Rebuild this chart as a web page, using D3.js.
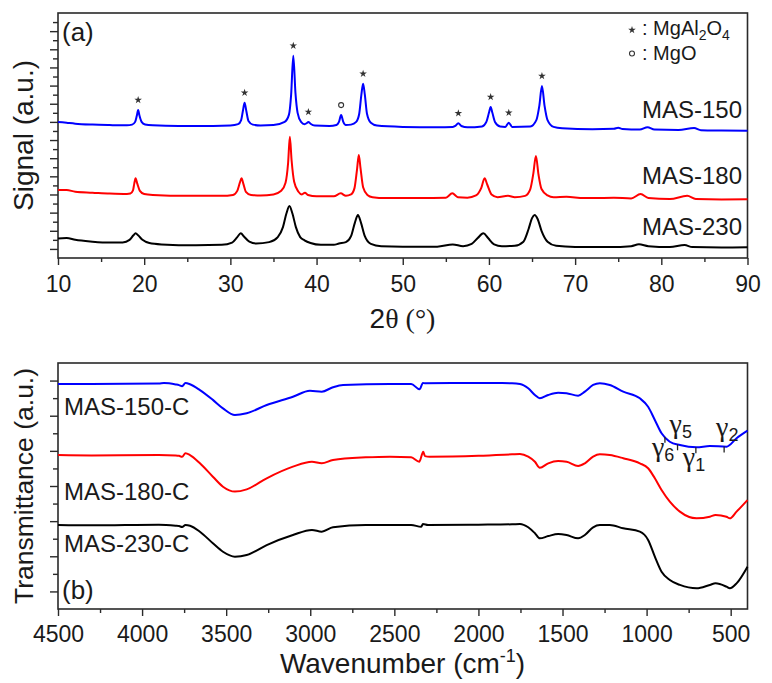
<!DOCTYPE html>
<html>
<head>
<meta charset="utf-8">
<script src="https://cdn.jsdelivr.net/npm/d3@7"></script>
<style>
  html, body { margin: 0; padding: 0; background: #fff; }
  svg { display: block; }
  text { font-family: "Liberation Sans", Arial, sans-serif; fill: #1a1a1a; }
</style>
</head>
<body>
<svg id="chart" width="772" height="683"></svg>
<script>
// ---------- (a) XRD patterns: [2θ (°), signal (a.u.)] ----------
const xrd150 = [
  [10, 15.0], [11, 14.9], [12, 14.8], [14, 14.7], [16, 14.65], [18, 14.62],
  [18.6, 14.7], [18.95, 15.0], [19.15, 15.7], [19.3, 16.3], [19.45, 15.7], [19.7, 15.0], [20.1, 14.72], [21, 14.62],
  [24, 14.55], [28, 14.55], [30, 14.6],
  [30.9, 14.75], [31.25, 15.2], [31.45, 16.2], [31.65, 17.1], [31.85, 16.2], [32.1, 15.1], [32.6, 14.7], [33.5, 14.6],
  [35, 14.65], [36.3, 15.0], [36.8, 15.8], [37.05, 18.0], [37.3, 22.3], [37.55, 18.2], [37.8, 16.0], [38.2, 15.0], [38.6, 14.75],
  [38.85, 14.85], [39.05, 15.0], [39.3, 14.8], [39.8, 14.6], [41.5, 14.55],
  [42.3, 14.65], [42.6, 15.0], [42.85, 15.75], [43.1, 15.0], [43.4, 14.65], [44.0, 14.7],
  [44.6, 15.0], [44.95, 15.9], [45.2, 18.0], [45.4, 19.2], [45.6, 18.0], [45.85, 15.9], [46.3, 14.9], [47, 14.6],
  [50, 14.45], [54, 14.4], [55.8, 14.45],
  [56.1, 14.55], [56.45, 14.85], [56.8, 14.55], [57.5, 14.4],
  [59.2, 14.5], [59.7, 15.0], [60.0, 16.0], [60.2, 16.65], [60.4, 16.0], [60.7, 15.0], [61.3, 14.5],
  [61.9, 14.45], [62.3, 14.9], [62.7, 14.45],
  [64.8, 14.5], [65.5, 15.2], [65.85, 16.8], [66.15, 18.95], [66.45, 16.8], [66.8, 15.2], [67.5, 14.45], [68.5, 14.3],
  [72, 14.2], [74.5, 14.25], [75.0, 14.36], [75.5, 14.22], [77.5, 14.15], [78.4, 14.42], [79.2, 14.15],
  [82, 14.1], [83.8, 14.32], [84.6, 14.08], [87, 14.05], [90, 14.03]
];
const xrd180 = [
  [10, 7.5], [11, 7.5], [12, 7.3], [14, 7.2], [16, 7.1], [18, 7.05],
  [18.4, 7.1], [18.7, 7.45], [18.85, 8.2], [19.0, 8.78], [19.2, 8.2], [19.5, 7.4], [20.0, 7.05], [21, 6.95],
  [25, 6.85], [29, 6.85], [30.3, 6.95], [30.8, 7.4], [31.1, 8.3], [31.3, 8.78], [31.5, 8.2], [31.8, 7.3], [32.4, 6.95], [33.5, 6.9],
  [35, 7.0], [35.9, 7.4], [36.4, 8.3], [36.7, 10.5], [36.9, 13.35], [37.1, 10.8], [37.4, 8.4], [37.9, 7.3], [38.3, 7.0],
  [38.65, 7.2], [39.0, 6.95], [40, 6.8], [42, 6.8], [42.8, 7.13], [43.4, 6.85], [44.0, 7.0],
  [44.4, 7.7], [44.7, 9.8], [44.9, 11.35], [45.1, 9.9], [45.4, 7.8], [45.9, 6.95], [46.5, 6.7],
  [48, 6.6], [52, 6.6], [55, 6.65], [55.75, 7.13], [56.4, 6.7], [57.5, 6.65],
  [58.5, 6.9], [59.1, 7.7], [59.5, 8.78], [59.8, 8.1], [60.3, 7.0], [61, 6.7], [62.2, 6.87], [63, 6.7],
  [64.2, 6.85], [64.8, 7.6], [65.15, 9.3], [65.45, 11.24], [65.75, 9.2], [66.1, 7.6], [66.8, 6.9], [67.5, 6.7],
  [69, 6.76], [71, 6.6], [74.5, 6.65], [76.5, 6.55], [77.6, 7.05], [78.5, 6.6], [81, 6.5], [83.0, 6.85], [84, 6.5],
  [87, 6.45], [90, 6.47]
];
const xrd230 = [
  [10, 2.15], [11, 2.2], [12, 2.0], [14, 1.8], [16, 1.7], [17.5, 1.72],
  [18.3, 2.0], [18.75, 2.5], [19.0, 2.72], [19.3, 2.5], [19.8, 2.0], [20.6, 1.65], [22, 1.5],
  [26, 1.4], [29, 1.45], [30.2, 1.7], [30.8, 2.3], [31.2, 2.72], [31.6, 2.35], [32.2, 1.8], [33, 1.6],
  [34.5, 1.75], [35.5, 2.3], [36.1, 3.4], [36.5, 4.9], [36.85, 5.73], [37.2, 4.9], [37.6, 3.4], [38.1, 2.3],
  [38.6, 1.95], [39.3, 1.65], [40.5, 1.45], [42, 1.45], [42.6, 1.6], [43.4, 1.75],
  [44.0, 2.4], [44.45, 3.9], [44.8, 4.74], [45.15, 3.9], [45.6, 2.4], [46.3, 1.55], [47.5, 1.3],
  [50, 1.25], [54, 1.25], [55.8, 1.5], [57, 1.3], [58, 1.55], [58.7, 2.2], [59.35, 2.72], [59.9, 2.2],
  [60.6, 1.5], [61.5, 1.3], [63, 1.35], [64.0, 1.8], [64.6, 3.2], [65.0, 4.4], [65.3, 4.74], [65.65, 4.3],
  [66.1, 3.0], [66.8, 1.8], [67.8, 1.35], [70, 1.22], [74, 1.2], [76.5, 1.3], [77.4, 1.51], [78.5, 1.3],
  [81, 1.2], [82.7, 1.43], [83.6, 1.2], [87, 1.15], [90, 1.18]
];
const xrdSeries = [
  { name: "MAS-150", color: "#0000ff", data: xrd150 },
  { name: "MAS-180", color: "#ff0000", data: xrd180 },
  { name: "MAS-230", color: "#000000", data: xrd230 }
];
// Reflections marked on MAS-150
const spinelPeaks = [19.3, 31.65, 37.3, 39.05, 45.4, 56.45, 60.2, 62.3, 66.15];
const mgoPeaks = [42.85];
const xrdTicks = [10, 20, 30, 40, 50, 60, 70, 80, 90];

// ---------- (b) FTIR spectra: [wavenumber (cm⁻¹), transmittance (a.u.)] ----------
const ir150 = [
  [4500, 12.81], [4300, 12.80], [3900, 12.83], [3870, 12.86], [3800, 12.78], [3780, 12.74], [3762, 12.68],
  [3742, 12.86], [3715, 12.79], [3656, 12.46], [3579, 11.90], [3519, 11.42], [3448, 11.04], [3378, 11.14],
  [3259, 11.61], [3103, 12.08], [3002, 12.42], [2932, 12.37], [2865, 12.62], [2805, 12.75], [2526, 12.81],
  [2400, 12.81], [2350, 12.50], [2330, 12.86], [2318, 12.85], [2000, 12.86], [1800, 12.85], [1753, 12.81],
  [1704, 12.56], [1664, 12.18], [1635, 11.99], [1585, 12.18], [1526, 12.31], [1476, 12.28], [1407, 12.14],
  [1367, 12.37], [1318, 12.75], [1278, 12.85], [1219, 12.75], [1139, 12.37], [1040, 11.99], [991, 11.51],
  [951, 10.76], [911, 10.00], [862, 9.52], [802, 9.33], [703, 9.20], [624, 9.28], [525, 9.24], [465, 9.72],
  [400, 10.15]
];
const ir180 = [
  [4500, 8.76], [4300, 8.74], [3900, 8.76], [3800, 8.74], [3780, 8.72], [3762, 8.66], [3742, 8.86],
  [3715, 8.76], [3656, 8.29], [3579, 7.53], [3519, 6.96], [3448, 6.68], [3378, 6.81], [3259, 7.44],
  [3103, 8.10], [2990, 8.38], [2932, 8.29], [2865, 8.48], [2670, 8.63], [2526, 8.67], [2400, 8.63],
  [2352, 8.38], [2328, 8.95], [2318, 8.70], [2290, 8.67], [2000, 8.72], [1800, 8.80], [1753, 8.82],
  [1704, 8.67], [1664, 8.38], [1635, 8.04], [1585, 8.29], [1526, 8.42], [1476, 8.38], [1407, 8.14],
  [1367, 8.29], [1318, 8.67], [1278, 8.80], [1219, 8.76], [1139, 8.58], [1040, 8.29], [991, 8.01],
  [951, 7.44], [911, 6.77], [862, 6.11], [802, 5.54], [703, 5.16], [624, 5.25], [590, 5.35], [525, 5.25],
  [505, 5.16], [465, 5.54], [400, 6.20]
];
const ir230 = [
  [4500, 4.78], [4300, 4.76], [3900, 4.80], [3800, 4.74], [3780, 4.72], [3762, 4.67], [3742, 4.78], [3715, 4.74],
  [3656, 4.40], [3579, 3.74], [3519, 3.26], [3448, 2.98], [3378, 3.07], [3259, 3.64], [3103, 4.21],
  [2990, 4.50], [2932, 4.40], [2865, 4.65], [2670, 4.78], [2526, 4.78], [2400, 4.78], [2340, 4.68],
  [2330, 4.84], [2300, 4.78], [2000, 4.80], [1800, 4.82], [1753, 4.84], [1704, 4.65], [1664, 4.31],
  [1635, 4.02], [1585, 4.15], [1526, 4.27], [1476, 4.21], [1407, 4.02], [1367, 4.21], [1318, 4.65],
  [1278, 4.78], [1219, 4.78], [1139, 4.59], [1040, 4.40], [991, 3.93], [951, 2.98], [911, 2.12],
  [862, 1.65], [802, 1.37], [703, 1.18], [624, 1.37], [590, 1.46], [525, 1.27], [505, 1.18], [465, 1.46],
  [400, 2.41]
];
const irSeries = [
  { name: "MAS-150-C", color: "#0000ff", data: ir150 },
  { name: "MAS-180-C", color: "#ff0000", data: ir180 },
  { name: "MAS-230-C", color: "#000000", data: ir230 }
];
// Vibrational bands marked on MAS-150-C
const gammaBands = [
  { wn: 891, idx: "6", side: "below" },
  { wn: 816, idx: "5", side: "above" },
  { wn: 707, idx: "1", side: "below" },
  { wn: 539, idx: "2", side: "above" }
];
const irTicks = [4500, 4000, 3500, 3000, 2500, 2000, 1500, 1000, 500];

// ---------- layout ----------
const svg = d3.select("#chart");
const frameColor = "#2a2a2a";

const xA = d3.scaleLinear().domain([10, 90]).range([58, 747.5]);
const yA = d3.scaleLinear().domain([0, 27]).range([258, 13]);
const xB = d3.scaleLinear().domain([4500, 400]).range([58, 747.5]);
const yB = d3.scaleLinear().domain([0, 14]).range([609, 363]);

// value of a series at a given x (linear between stored points)
function valueAt(data, x) {
  const asc = data[0][0] < data[data.length - 1][0];
  for (let i = 0; i < data.length - 1; i++) {
    const a = data[i], b = data[i + 1];
    const inside = asc ? (x >= a[0] && x <= b[0]) : (x <= a[0] && x >= b[0]);
    if (inside) return a[1] + (b[1] - a[1]) * (x - a[0]) / (b[0] - a[0]);
  }
  return data[data.length - 1][1];
}

function styleAxis(g) {
  g.select(".domain").remove();
  g.selectAll(".tick line").attr("stroke", frameColor).attr("stroke-width", 1.4);
}

function drawPanel(x, y, ticks, minorStep, yMax, labelBase) {
  const [x0, x1] = x.range();
  const [yb, yt] = y.range();
  const g = svg.append("g");

  // bottom axis: labelled major ticks + minor ticks halfway between them
  const minor = ticks.slice(0, -1).map(t => t + minorStep);
  g.append("g").attr("transform", `translate(0,${yb})`)
    .call(d3.axisBottom(x).tickValues(minor).tickSize(4).tickFormat(""))
    .call(styleAxis);
  const major = g.append("g").attr("transform", `translate(0,${yb})`)
    .call(d3.axisBottom(x).tickValues(ticks).tickSize(7).tickFormat(d3.format("d")))
    .call(styleAxis);
  major.selectAll("text")
    .attr("dy", null).attr("y", labelBase)
    .style("font-size", "23px").style("font-family", '"Liberation Sans", Arial, sans-serif')
    .attr("fill", "#1a1a1a");

  // left axis: unlabelled ticks, alternating lengths
  const yTicks = d3.range(1, yMax);
  g.append("g").attr("transform", `translate(${x0},0)`)
    .call(d3.axisLeft(y).tickValues(yTicks.filter(v => v % 2 === 1)).tickSize(8).tickFormat(""))
    .call(styleAxis);
  g.append("g").attr("transform", `translate(${x0},0)`)
    .call(d3.axisLeft(y).tickValues(yTicks.filter(v => v % 2 === 0)).tickSize(5).tickFormat(""))
    .call(styleAxis);

  // frame
  g.append("rect")
    .attr("x", x0).attr("y", yt)
    .attr("width", x1 - x0).attr("height", yb - yt)
    .attr("fill", "none").attr("stroke", frameColor).attr("stroke-width", 1.6);
  return g;
}

// ---------- panel (a) ----------
drawPanel(xA, yA, xrdTicks, 5, 27, 34);

const lineA = d3.line().x(d => xA(d[0])).y(d => yA(d[1])).curve(d3.curveMonotoneX);
svg.append("g").selectAll("path").data(xrdSeries).join("path")
  .attr("d", s => lineA(s.data))
  .attr("fill", "none").attr("stroke", s => s.color)
  .attr("stroke-width", 2).attr("stroke-linejoin", "round");

// phase markers above MAS-150 reflections
const markG = svg.append("g");
markG.selectAll("path.star").data(spinelPeaks).join("path")
  .attr("class", "star")
  .attr("d", d3.symbol(d3.symbolStar, 18))
  .attr("transform", d => `translate(${xA(d)},${yA(valueAt(xrd150, d)) - 10})`)
  .attr("fill", "#333");
markG.selectAll("circle.mgo").data(mgoPeaks).join("circle")
  .attr("class", "mgo")
  .attr("cx", d => xA(d)).attr("cy", d => yA(valueAt(xrd150, d)) - 10)
  .attr("r", 2.5).attr("fill", "none").attr("stroke", "#333").attr("stroke-width", 1.1);

// series labels
const labA = [117.5, 183.5, 235];
svg.append("g").selectAll("text").data(xrdSeries).join("text")
  .attr("x", 742).attr("y", (d, i) => labA[i])
  .attr("text-anchor", "end").style("font-size", "24px")
  .text(d => d.name);

// legend
const leg = svg.append("g");
leg.append("path").attr("d", d3.symbol(d3.symbolStar, 18))
  .attr("transform", "translate(632,30)").attr("fill", "#333");
const t1 = leg.append("text").attr("x", 642).attr("y", 35).style("font-size", "20px");
t1.append("tspan").text(": MgAl");
t1.append("tspan").attr("dy", 5).style("font-size", "14px").text("2");
t1.append("tspan").attr("dy", -5).text("O");
t1.append("tspan").attr("dy", 5).style("font-size", "14px").text("4");
leg.append("circle").attr("cx", 632).attr("cy", 53.5).attr("r", 2.5)
  .attr("fill", "none").attr("stroke", "#333").attr("stroke-width", 1.1);
leg.append("text").attr("x", 642).attr("y", 60).style("font-size", "20px").text(": MgO");

svg.append("text").attr("x", 62).attr("y", 41).style("font-size", "26px").text("(a)");

// axis titles (a)
svg.append("text")
  .attr("transform", "translate(33,135.5) rotate(-90)")
  .attr("text-anchor", "middle").style("font-size", "28px")
  .text("Signal (a.u.)");
const xt = svg.append("text").attr("x", 402.5).attr("y", 328)
  .attr("text-anchor", "middle").style("font-size", "28px");
xt.append("tspan").text("2");
xt.append("tspan").style("font-family", '"Liberation Serif", "Times New Roman", serif').text("θ (°)");

// ---------- panel (b) ----------
drawPanel(xB, yB, irTicks, -250, 14, 33);

const lineB = d3.line().x(d => xB(d[0])).y(d => yB(d[1])).curve(d3.curveMonotoneX);
svg.append("g").selectAll("path").data(irSeries).join("path")
  .attr("d", s => lineB(s.data))
  .attr("fill", "none").attr("stroke", s => s.color)
  .attr("stroke-width", 2).attr("stroke-linejoin", "round");

// band markers on MAS-150-C
const gG = svg.append("g");
gammaBands.forEach(b => {
  const px = xB(b.wn), py = yB(valueAt(ir150, b.wn));
  gG.append("line").attr("x1", px).attr("x2", px).attr("y1", py).attr("y2", py + 6)
    .attr("stroke", "#222").attr("stroke-width", 1.3);
  const ty = b.side === "above" ? py - 11 : py + 19;
  const tx = b.side === "above" ? px - 8 : px - 13;
  const t = gG.append("text").attr("x", tx).attr("y", ty).style("font-size", "28px");
  t.append("tspan").style("font-family", '"Liberation Serif", "Times New Roman", serif').text("γ");
  t.append("tspan").attr("dy", 5).style("font-size", "18px").text(b.idx);
});

const labB = [415, 500, 552];
svg.append("g").selectAll("text").data(irSeries).join("text")
  .attr("x", 64).attr("y", (d, i) => labB[i])
  .style("font-size", "24px")
  .text(d => d.name);
svg.append("text").attr("x", 62).attr("y", 599).style("font-size", "26px").text("(b)");

svg.append("text")
  .attr("transform", "translate(33,486) rotate(-90)")
  .attr("text-anchor", "middle").style("font-size", "26.5px")
  .text("Transmittance (a.u.)");
const xb = svg.append("text").attr("x", 402.5).attr("y", 673)
  .attr("text-anchor", "middle").style("font-size", "28px");
xb.append("tspan").text("Wavenumber (cm");
xb.append("tspan").attr("dy", -11).style("font-size", "18px").text("-1");
xb.append("tspan").attr("dy", 11).text(")");
</script>
</body>
</html>
